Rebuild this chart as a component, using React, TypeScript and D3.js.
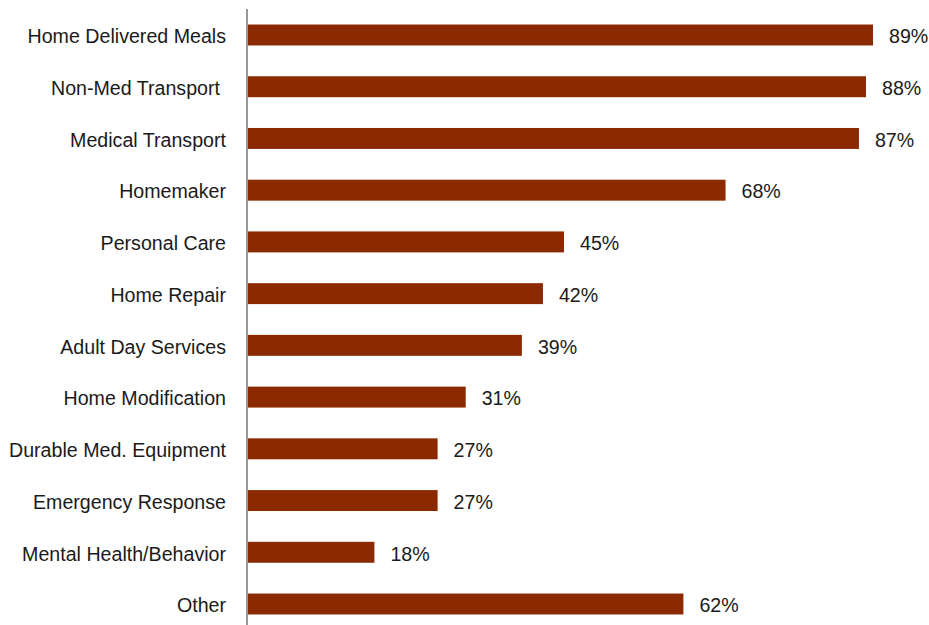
import React from "react";
import * as d3 from "d3";

const categories = [
  "Home Delivered Meals",
  "Non-Med Transport ",
  "Medical Transport",
  "Homemaker",
  "Personal Care",
  "Home Repair",
  "Adult Day Services",
  "Home Modification",
  "Durable Med. Equipment",
  "Emergency Response",
  "Mental Health/Behavior",
  "Other",
];
const values = [89, 88, 87, 68, 45, 42, 39, 31, 27, 27, 18, 62];
const valueLabels = values.map((v) => `${v}%`);

const W = 929;
const H = 625;
const FONT = "'Liberation Sans Narrow', 'Arial Narrow', 'Liberation Sans', Arial, sans-serif";
const SX = 0.935;

export default function App() {
  const x = d3.scaleLinear().domain([0, 89]).range([248, 873]);
  const y = d3
    .scaleBand<string>()
    .domain(categories)
    .range([9, 630])
    .paddingInner(0.595)
    .paddingOuter(0.3);
  const bw = y.bandwidth();
  return (
    <svg
      width={W}
      height={H}
      style={{ position: "absolute", left: 0, top: 0, background: "#fff" }}
      fontFamily={FONT}
    >
      {categories.map((c, i) => {
        const yy = y(c)!;
        const cy = yy + bw / 2 + 1;
        const nameX = c.endsWith(" ") ? 220 : 226;
        return (
          <g key={c}>
            <rect x={x(0)} y={yy} width={x(values[i]) - x(0)} height={bw} fill="#8B2900" />
            <text
              transform={`translate(${nameX},${cy}) scale(${SX},1)`}
              textAnchor="end"
              dominantBaseline="central"
              fontSize={21}
              fill="#1a1a1a"
            >
              {c.trimEnd()}
            </text>
            <text
              transform={`translate(${x(values[i]) + 16},${cy}) scale(${SX},1)`}
              dominantBaseline="central"
              fontSize={21}
              fill="#1a1a1a"
            >
              {valueLabels[i]}
            </text>
          </g>
        );
      })}
      <line x1={247} x2={247} y1={9} y2={625} stroke="#999" strokeWidth={2} />
    </svg>
  );
}
